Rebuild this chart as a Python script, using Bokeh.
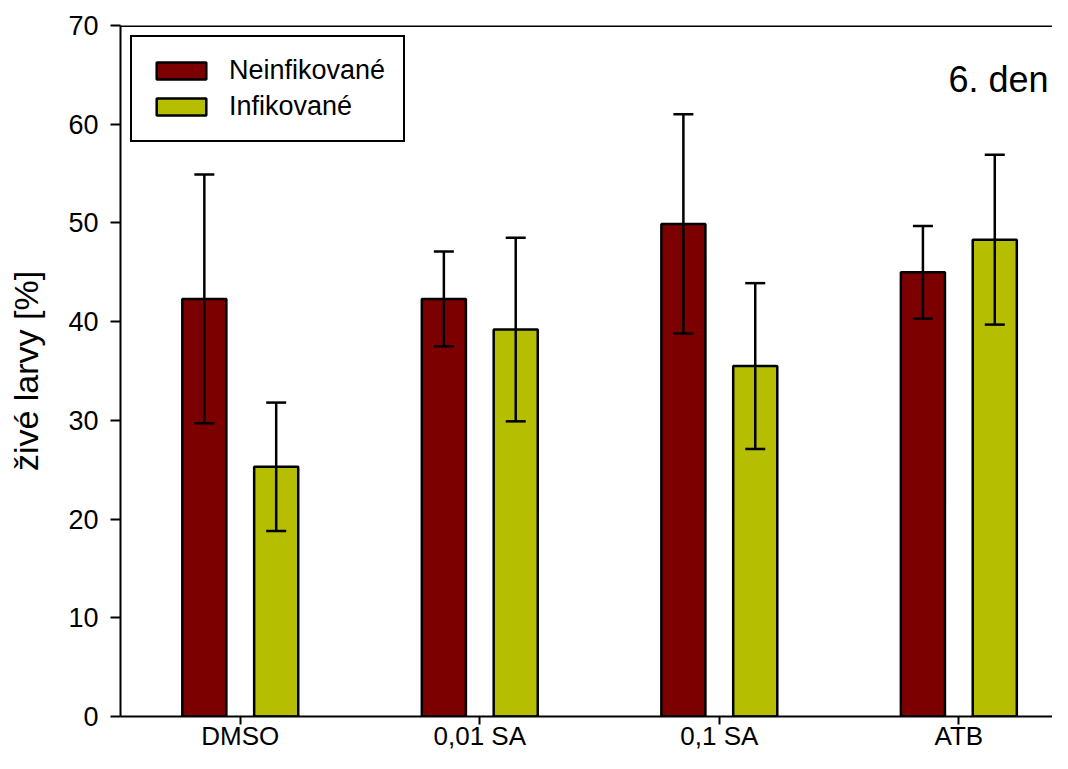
from bokeh.plotting import figure
from bokeh.models import (ColumnDataSource, Range1d, FixedTicker, Whisker, TeeHead,
                          Span, Label)
from bokeh.embed import file_html
from bokeh.resources import INLINE

categories = ["DMSO", "0,01 SA", "0,1 SA", "ATB"]
neinf_mean = [42.3, 42.3, 49.9, 45.0]
neinf_err = [12.6, 4.8, 11.1, 4.7]
inf_mean = [25.3, 39.2, 35.5, 48.3]
inf_err = [6.5, 9.3, 8.4, 8.6]
yticks = [0, 10, 20, 30, 40, 50, 60, 70]

RED = "#7C0000"
GREEN = "#B5BE00"
FONT = "Liberation Sans"
OFFSET = 0.15
BAR_W = 0.184

idx = list(range(1, len(categories) + 1))

src_r = ColumnDataSource(dict(
    x=[i - OFFSET for i in idx], top=neinf_mean,
    upper=[m + e for m, e in zip(neinf_mean, neinf_err)],
    lower=[m - e for m, e in zip(neinf_mean, neinf_err)]))
src_g = ColumnDataSource(dict(
    x=[i + OFFSET for i in idx], top=inf_mean,
    upper=[m + e for m, e in zip(inf_mean, inf_err)],
    lower=[m - e for m, e in zip(inf_mean, inf_err)]))

p = figure(width=1052, height=753, output_backend="svg", toolbar_location=None,
           x_range=Range1d(0.5, 4.391), y_range=Range1d(0, 70),
           min_border_left=120, min_border_right=0, min_border_top=25,
           min_border_bottom=35)
p.outline_line_color = None
p.xgrid.grid_line_color = None
p.ygrid.grid_line_color = None
p.background_fill_color = "white"

p.vbar(x="x", top="top", width=BAR_W, source=src_r, fill_color=RED,
       line_color="black", line_width=2.5, legend_label="Neinfikované")
p.vbar(x="x", top="top", width=BAR_W, source=src_g, fill_color=GREEN,
       line_color="black", line_width=2.5, legend_label="Infikované")

for s in (src_r, src_g):
    w = Whisker(base="x", upper="upper", lower="lower", source=s,
                line_color="black", line_width=2.5, level="annotation",
                upper_head=TeeHead(size=20, line_width=2.5, line_color="black"),
                lower_head=TeeHead(size=20, line_width=2.5, line_color="black"))
    p.add_layout(w)

p.add_layout(Span(location=70, dimension="width", line_color="black", line_width=3))

# axes
xa = p.xaxis[0]
xa.ticker = FixedTicker(ticks=idx)
xa.major_label_overrides = {i: c for i, c in zip(idx, categories)}
xa.axis_line_width = 2
xa.axis_line_color = "black"
xa.major_tick_line_width = 2
xa.major_tick_line_color = "black"
xa.major_tick_out = 8
xa.major_tick_in = 0
xa.minor_tick_line_color = None
xa.major_label_standoff = -4
xa.major_label_text_font = FONT
xa.major_label_text_font_size = "26px"
xa.major_label_text_color = "black"

ya = p.yaxis[0]
ya.ticker = FixedTicker(ticks=yticks)
ya.axis_line_width = 2
ya.axis_line_color = "black"
ya.major_tick_line_width = 2
ya.major_tick_line_color = "black"
ya.major_tick_out = 10
ya.major_tick_in = 0
ya.minor_tick_line_color = None
ya.major_label_standoff = 12
ya.major_label_text_font = FONT
ya.major_label_text_font_size = "27px"
ya.major_label_text_color = "black"
ya.axis_label = "živé larvy [%]"
ya.axis_label_text_font = FONT
ya.axis_label_text_font_size = "34px"
ya.axis_label_text_font_style = "normal"
ya.axis_label_text_color = "black"
ya.axis_label_standoff = 20

# legend
lg = p.legend[0]
lg.location = "top_left"
lg.margin = 10
lg.padding = 18
lg.border_line_color = "black"
lg.border_line_width = 2
lg.border_line_alpha = 1
lg.glyph_width = 62
lg.glyph_height = 21
lg.label_height = 21
lg.spacing = 5
lg.label_standoff = 17
lg.label_text_font = FONT
lg.label_text_font_size = "27px"
lg.label_text_color = "black"
lg.background_fill_alpha = 1

p.add_layout(Label(x=3.957, y=64.5, text="6. den", text_font=FONT,
                   text_font_size="36px", text_color="black",
                   text_baseline="alphabetic", text_align="left"))

open("out.html", "w").write(file_html(p, INLINE))
